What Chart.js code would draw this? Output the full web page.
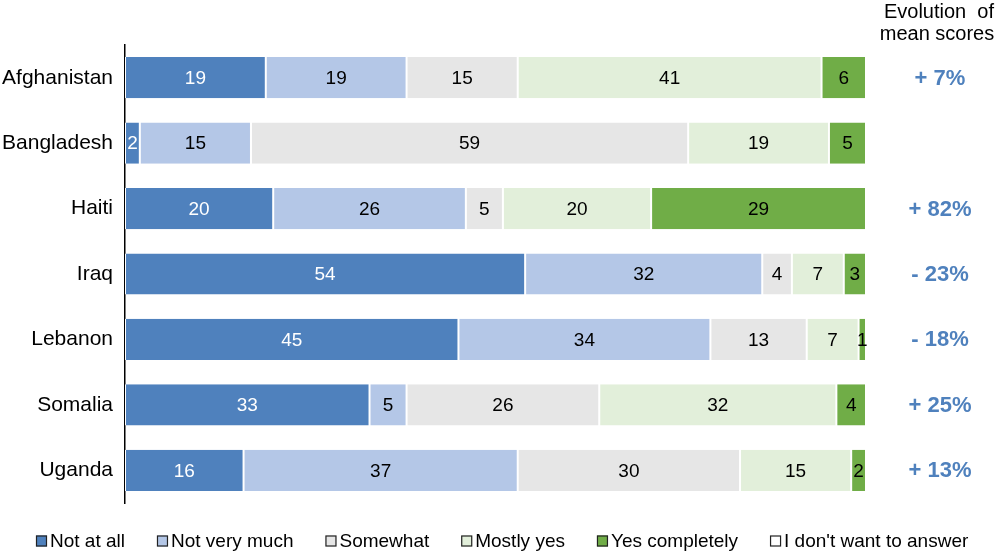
<!DOCTYPE html>
<html>
<head>
<meta charset="utf-8">
<script src="https://cdn.jsdelivr.net/npm/chart.js@4.4.1/dist/chart.umd.min.js"></script>
<style>
html,body{margin:0;padding:0;background:#fff;}
#wrap{width:1000px;height:553px;position:relative;}
</style>
</head>
<body>
<div id="wrap"><canvas id="c" width="1000" height="553"></canvas></div>
<script>
const categories = ["Afghanistan","Bangladesh","Haiti","Iraq","Lebanon","Somalia","Uganda"];
const seriesNames = ["Not at all","Not very much","Somewhat","Mostly yes","Yes completely","I don't want to answer"];
const notAtAll      = [19, 2, 20, 54, 45, 33, 16];
const notVeryMuch   = [19, 15, 26, 32, 34, 5, 37];
const somewhat      = [15, 59, 5, 4, 13, 26, 30];
const mostlyYes     = [41, 19, 20, 7, 7, 32, 15];
const yesCompletely = [6, 5, 29, 3, 1, 4, 2];
const noAnswer      = [0, 0, 0, 0, 0, 0, 0];
const evolution     = ["+ 7%", "", "+ 82%", "- 23%", "- 18%", "+ 25%", "+ 13%"];
const evolutionTitle = ["Evolution  of", "mean scores"];

const colors = ["#4F81BD","#B4C7E7","#E6E6E6","#E2EFDA","#70AD47","#FFFFFF"];
const labelColors = ["#FFFFFF","#000000","#000000","#000000","#000000","#000000"];
const FONT = "'Liberation Sans', Arial, sans-serif";

const values = [notAtAll, notVeryMuch, somewhat, mostlyYes, yesCompletely, noAnswer];

const datasets = values.map((v,i)=>({
  label: seriesNames[i],
  data: v,
  backgroundColor: colors[i],
  borderColor: "#FFFFFF",
  borderWidth: {left:1,right:1,top:0,bottom:0},
  borderSkipped: false,
  barPercentage: 0.63,
  categoryPercentage: 1.0
}));

const extras = {
  id: "extras",
  afterDatasetsDraw(chart){
    const ctx = chart.ctx;
    ctx.save();
    ctx.textAlign = "center";
    ctx.textBaseline = "middle";
    ctx.font = "19px " + FONT;
    chart.data.datasets.forEach((ds, di)=>{
      const meta = chart.getDatasetMeta(di);
      meta.data.forEach((bar, i)=>{
        const v = ds.data[i];
        if (!v) return;
        const x = (bar.x + bar.base)/2;
        ctx.fillStyle = labelColors[di];
        ctx.fillText(String(v), x, bar.y + 1);
      });
    });
    const y = chart.scales.y;
    ctx.font = "bold 22px " + FONT;
    ctx.fillStyle = "#4F81BD";
    evolution.forEach((t,i)=>{
      if (!t) return;
      ctx.fillText(t, 940, y.getPixelForValue(i) + 1);
    });
    ctx.font = "20px " + FONT;
    ctx.fillStyle = "#000";
    ctx.fillText(evolutionTitle[0], 939, 12);
    ctx.fillText(evolutionTitle[1], 937, 34);

    // legend
    ctx.font = "19px " + FONT;
    ctx.textAlign = "left";
    const box = 11, gapText = 3, gapItem = 32;
    const widths = chart.data.datasets.map(ds => box + gapText + ctx.measureText(ds.label).width);
    const total = widths.reduce((a,b)=>a+b,0) + gapItem*(widths.length-1);
    let x = Math.round((chart.width - total)/2) + 2;
    const ly = 541;
    chart.data.datasets.forEach((ds,i)=>{
      ctx.fillStyle = ds.backgroundColor;
      ctx.fillRect(x, ly - box/2, box, box);
      ctx.strokeStyle = "#222";
      ctx.lineWidth = 1.2;
      ctx.strokeRect(x + 0.5, ly - box/2 + 0.5, box - 1, box - 1);
      ctx.fillStyle = "#000";
      ctx.fillText(ds.label, x + box + gapText, ly + 1);
      x += widths[i] + gapItem;
    });
    ctx.restore();
  }
};

new Chart(document.getElementById("c"), {
  type: "bar",
  data: { labels: categories, datasets },
  options: {
    indexAxis: "y",
    responsive: false,
    animation: false,
    layout: { padding: { top: 45, right: 134, left: 0, bottom: 50 } },
    scales: {
      x: {
        stacked: true, min: 0, max: 100, display: false
      },
      y: {
        stacked: true,
        grid: { display: false, drawTicks: false },
        border: { display: true, color: "#000", width: 1.5 },
        ticks: { color: "#000", font: { family: FONT, size: 21 }, padding: 12 },
        afterFit(scale){ scale.width = 125; }
      }
    },
    plugins: {
      tooltip: { enabled: false },
      legend: { display: false }
    }
  },
  plugins: [extras]
});
</script>
</body>
</html>
